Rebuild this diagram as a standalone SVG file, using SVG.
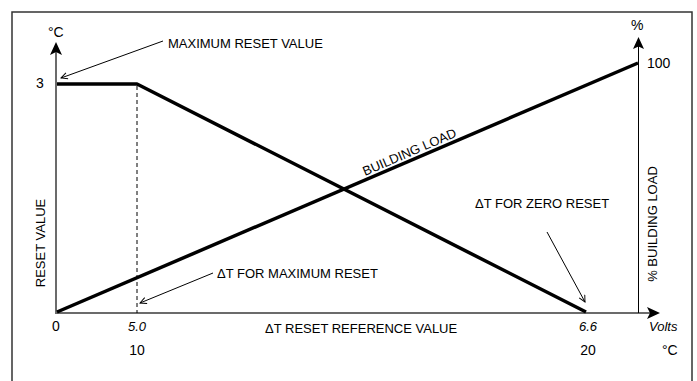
<svg xmlns="http://www.w3.org/2000/svg" width="697" height="381" viewBox="0 0 697 381">
<defs>
<style>
text{font-family:"Liberation Sans",Arial,sans-serif;font-size:13px;fill:#000}
.it{font-style:italic;font-size:13px}
.num{font-size:14px}
.ax{stroke:#6b6b6b;stroke-width:2;fill:none}
.thick{stroke:#000;stroke-width:3.5;fill:none;stroke-linejoin:round}
.thin{stroke:#000;stroke-width:1;fill:none}
.ah{fill:#000}
</style>
<marker id="oa" viewBox="0 0 10 10" refX="9" refY="5" markerWidth="8" markerHeight="8" markerUnits="userSpaceOnUse" orient="auto">
<path d="M1,1 L9,5 L1,9" fill="none" stroke="#000" stroke-width="1.2"/>
</marker>
</defs>
<rect x="0" y="0" width="697" height="381" fill="#fff"/>
<rect x="12" y="12" width="680" height="390" fill="none" stroke="#333" stroke-width="1.5"/>
<g id="axes">
<line class="ax" x1="56" y1="50" x2="56" y2="313"/>
<path class="ah" d="M56,42 L62,55 L56,52 L50,55 Z"/>
<line class="ax" x1="55" y1="313" x2="650" y2="313"/>
<path class="ah" d="M660,313 L647,307 L650,313 L647,319 Z"/>
<line class="thin" x1="638.5" y1="46" x2="638.5" y2="313"/>
<path class="ah" d="M638.5,37 L644,49 L638.5,46.5 L633,49 Z"/>
</g>
<g id="curves">
<polyline class="thick" points="57,84 137,84 586,312"/>
<line class="thick" x1="57" y1="312" x2="638" y2="63"/>
<line x1="137" y1="86" x2="137" y2="313" stroke="#000" stroke-width="1" stroke-dasharray="4,3"/>
</g>
<g id="connectors">
<line class="thin" x1="163" y1="41" x2="61" y2="78" marker-end="url(#oa)"/>
<line class="thin" x1="213" y1="273" x2="140" y2="303" marker-end="url(#oa)"/>
<line class="thin" x1="547" y1="232" x2="585" y2="302" marker-end="url(#oa)"/>
</g>
<g id="labels">
<text class="num" x="48" y="37">°C</text>
<text class="num" x="631" y="30">%</text>
<text class="num" x="36" y="88">3</text>
<text class="num" x="647" y="68">100</text>
<text x="168" y="48">MAXIMUM RESET VALUE</text>
<text transform="translate(45,243) rotate(-90)" text-anchor="middle">RESET VALUE</text>
<text transform="translate(657,224) rotate(-90)" text-anchor="middle">% BUILDING LOAD</text>
<text transform="translate(365,176) rotate(-23.25)">BUILDING LOAD</text>
<text x="217" y="278">ΔT FOR MAXIMUM RESET</text>
<text x="475" y="208">ΔT FOR ZERO RESET</text>
<text class="num" x="56" y="331" text-anchor="middle">0</text>
<text class="it" x="137" y="331" text-anchor="middle">5.0</text>
<text class="num" x="137" y="355" text-anchor="middle">10</text>
<text x="265" y="333">ΔT RESET REFERENCE VALUE</text>
<text class="it" x="588" y="331" text-anchor="middle">6.6</text>
<text class="num" x="588" y="355" text-anchor="middle">20</text>
<text class="it" x="649" y="331">Volts</text>
<text class="num" x="662" y="355">°C</text>
</g>
</svg>
